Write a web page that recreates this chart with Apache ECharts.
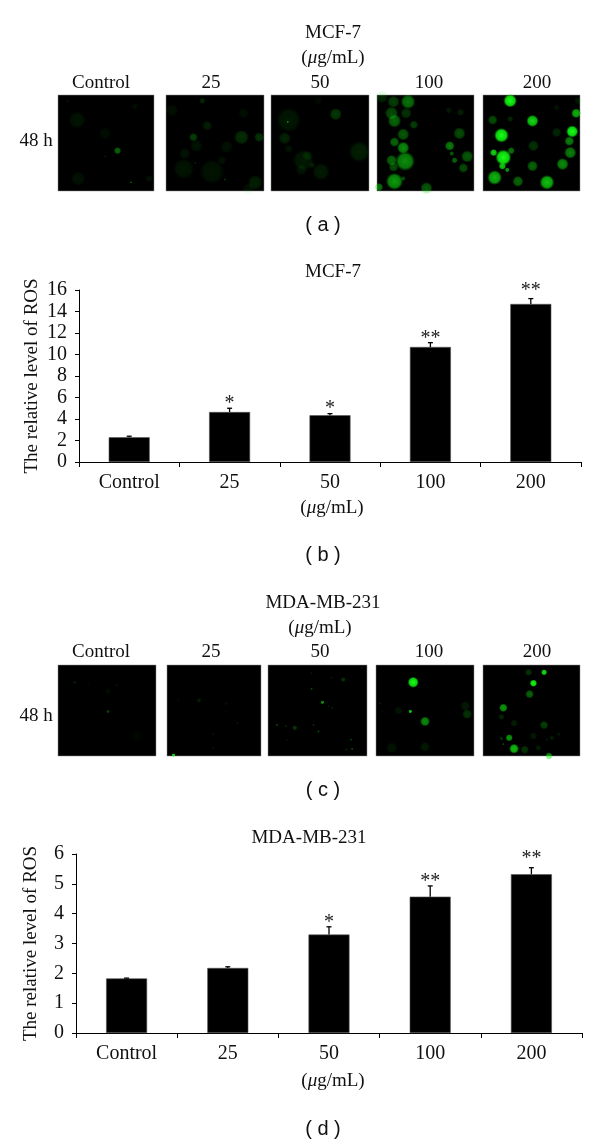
<!DOCTYPE html>
<html>
<head>
<meta charset="utf-8">
<script src="https://cdn.jsdelivr.net/npm/echarts@6/dist/echarts.min.js"></script>
<style>html,body{margin:0;padding:0;background:#fff}#c{width:600px;height:1144px}</style>
</head>
<body>
<div id="c"></div>
<script>
const doses = ['Control', '25', '50', '100', '200'];

// Bar values, top of the error bar, significance marks and the level the marks sit at
const mcfValues = [2.3, 4.65, 4.35, 10.7, 14.7];
const mcfErrorTops = [2.4, 5.0, 4.5, 11.1, 15.2];
const mcfStars = ['', '*', '*', '**', '**'];
const mcfStarLevels = [0, 5.67, 5.24, 11.7, 16.2];
const mdaValues = [1.83, 2.18, 3.3, 4.57, 5.32];
const mdaErrorTops = [1.84, 2.22, 3.56, 4.93, 5.54];
const mdaStars = ['', '', '*', '**', '**'];
const mdaStarLevels = [0, 0, 3.79, 5.16, 5.93];

// Fluorescent cells: [x %, y %, diameter %, brightness]
const mcfControl = [[20,26,14,.08],[62,58,6,.4],[76,91,2,.35],[21,87,12,.07],[49,64,2,.12],[80,12,5,.05],[49,40,10,.05],[95,87,6,.07],[10,6,3,.06]];
const mcf25 = [[37,6,5,.15],[6,16,10,.06],[42,32,8,.12],[28,44,7,.25],[79,19,8,.06],[77,44,12,.18],[95,44,8,.2],[31,53,10,.08],[19,61,9,.08],[62,54,10,.07],[18,77,17,.08],[47,80,20,.08],[60,88,2,.25],[91,91,12,.12],[57,68,7,.07],[30,71,2,.15],[84,98,10,.06]];
const mcf50 = [[18,26,20,.09],[17,28,2,.5],[66,20,10,.22],[14,45,10,.14],[18,56,7,.07],[90,59,17,.12],[33,68,17,.1],[37,63,8,.1],[31,78,9,.08],[51,80,14,.1],[42,73,5,.1],[48,6,7,.04]];
const mcf100 = [[32,7,12,.45],[17,7,10,.25],[5,2,10,.15],[15,19,11,.3],[18,27,11,.4],[30,19,9,.2],[38,31,7,.25],[27,41,10,.35],[18,49,8,.4],[27,55,10,.55],[15,68,9,.4],[29,69,16,.55],[17,75,8,.3],[18,90,14,.6],[27,87,4,.3],[2,96,7,.45],[51,97,10,.35],[75,53,8,.5],[85,40,10,.3],[80,68,5,.4],[93,64,10,.35],[89,76,8,.3],[77,61,4,.35],[86,18,6,.12],[74,16,5,.1]];
const mcf200 = [[28,6,11,1],[10,26,8,.3],[28,25,5,.15],[51,27,10,.85],[96,19,8,.7],[92,38,10,1],[19,42,12,1],[76,39,8,.15],[89,48,8,.5],[90,60,10,.5],[52,53,9,.2],[11,60,6,.85],[29,58,6,.45],[21,65,13,1],[20,74,6,.8],[25,78,4,.6],[51,74,9,.4],[82,72,10,.55],[12,86,12,.7],[36,90,9,.4],[66,91,12,.75],[98,6,6,.1],[76,13,5,.08]];
const mdaControl = [[17,19,3,.1],[31,22,2,.06],[51,29,5,.05],[51,51,3,.25],[60,22,3,.05],[80,78,8,.03]];
const mda25 = [[7,99,3,.9],[34,39,4,.12],[12,38,2,.08],[75,64,2,.12],[49,76,2,.1],[49,91,2,.07],[44,53,1.5,.06],[62,51,1.5,.1],[94,64,1.5,.05],[30,5,1.5,.05],[63,42,3,.07],[23,56,1.5,.05]];
const mda50 = [[55,41,3,.6],[44,26,2,.3],[44,9,2,.12],[76,16,4,.2],[64,14,1.5,.2],[61,45,1.5,.15],[65,47,2,.15],[9,66,2,.25],[18,67,2,.15],[27,69,4,.22],[46,66,2,.2],[51,73,2,.3],[84,82,2,.25],[79,93,1.5,.3],[85,92,2,.3],[19,82,2,.08],[95,3,2,.08],[75,41,1,.1]];
const mda100 = [[38,19,9,1],[35,51,3,.8],[50,62,8,.55],[93,54,8,.2],[91,45,8,.1],[23,50,7,.08],[4,42,2,.1],[50,90,8,.1],[16,91,9,.08],[6,51,1.5,.08]];
const mda200 = [[63,8,5,.9],[47,8,6,.2],[52,20,6,1],[48,32,7,.4],[21,47,7,.6],[19,57,5,.15],[32,64,6,.12],[63,66,7,.25],[27,80,6,.6],[19,81,3,.2],[32,92,8,.75],[43,93,7,.2],[68,100,6,.55],[52,78,6,.1],[71,80,4,.12],[78,76,3,.1],[66,82,3,.08],[21,87,2,.3],[57,91,5,.1],[30,16,2,.05]];

const SERIF = '"Liberation Serif", serif';
const SANS = '"Liberation Sans", Arial, sans-serif';
const grid = [], xAxis = [], yAxis = [], series = [], graphic = [];

function text(str, x, y, size, family, extra) {
  graphic.push({
    type: 'text', x: x, y: y, silent: true,
    style: Object.assign({text: str, fontFamily: family || SERIF, fontSize: size || 19, fill: '#111', align: 'center', verticalAlign: 'middle'}, extra || {})
  });
}
const unitRich = {
  u: {fontFamily: SERIF, fontSize: 19, fontStyle: 'italic', fill: '#111', color: '#111'},
  n: {fontFamily: SERIF, fontSize: 19, fill: '#111', color: '#111'}
};
const unitText = '{n|(}{u|μ}{n|g/mL)}';
function unit(x, y) { text(unitText, x, y, 19, SERIF, {rich: unitRich}); }

function cellPanel(cells, left, top, width, height) {
  const idx = grid.length;
  grid.push({left: left, top: top, width: width, height: height, show: true, backgroundColor: '#000', borderColor: '#8a8a8a', borderWidth: 0.5});
  xAxis.push({gridIndex: idx, type: 'value', min: 0, max: 100, show: false});
  yAxis.push({gridIndex: idx, type: 'value', min: 0, max: 100, inverse: true, show: false});
  series.push({
    type: 'scatter', xAxisIndex: idx, yAxisIndex: idx, silent: true, clip: true,
    symbol: 'circle',
    symbolSize: v => v[2] * 1.28 * width / 100,
    data: cells.map(c => {
      const b = c[3];
      return {
        value: c,
        itemStyle: {
          opacity: 1,
          color: {type: 'radial', x: .5, y: .5, r: .5, colorStops: [
            {offset: 0, color: `rgba(25,255,25,${b})`},
            {offset: .68, color: `rgba(15,245,15,${b * .85})`},
            {offset: 1, color: 'rgba(0,200,0,0)'}
          ]}
        }
      };
    })
  });
}

function barChart(values, errTops, stars, starLevels, left, top, width, height, maxV, step, nameGap) {
  const idx = grid.length;
  grid.push({left: left, top: top, width: width, height: height});
  xAxis.push({
    gridIndex: idx, type: 'category', data: doses,
    axisLine: {lineStyle: {color: '#000', width: 1}},
    axisTick: {show: true, alignWithLabel: false, length: 5, lineStyle: {color: '#000'}},
    axisLabel: {color: '#111', fontFamily: SERIF, fontSize: 20, margin: 11, interval: 0},
    splitLine: {show: false}
  });
  yAxis.push({
    gridIndex: idx, type: 'value', min: 0, max: maxV, interval: step,
    axisLine: {show: true, lineStyle: {color: '#000', width: 1}},
    axisTick: {show: true, length: 4, lineStyle: {color: '#000'}},
    axisLabel: {color: '#111', fontFamily: SERIF, fontSize: 20, margin: 12},
    splitLine: {show: false},
    name: 'The relative level of ROS', nameLocation: 'middle', nameRotate: 90, nameGap: nameGap,
    nameMoveOverlap: false,
    nameTextStyle: {color: '#111', fontFamily: SERIF, fontSize: 19}
  });
  series.push({
    type: 'bar', xAxisIndex: idx, yAxisIndex: idx, silent: true,
    barWidth: 41, data: values,
    itemStyle: {color: '#000', borderColor: '#555', borderWidth: 0.6}
  });
  series.push({
    type: 'custom', xAxisIndex: idx, yAxisIndex: idx, silent: true, z: 3,
    data: values.map((v, i) => [i, v, errTops[i], starLevels[i]]),
    encode: {x: 0, y: [1, 2]},
    renderItem: function (params, api) {
      const base = api.coord([api.value(0), api.value(1)]);
      const tip = api.coord([api.value(0), api.value(2)]);
      const line = {stroke: '#000', lineWidth: 1.3};
      const star = stars[params.dataIndex];
      const kids = [
        {type: 'line', shape: {x1: base[0], y1: base[1], x2: base[0], y2: tip[1]}, style: line},
        {type: 'line', shape: {x1: base[0] - 2.5, y1: tip[1], x2: base[0] + 2.5, y2: tip[1]}, style: line}
      ];
      if (star) {
        const mark = api.coord([api.value(0), api.value(3)]);
        kids.push({type: 'text', x: base[0], y: mark[1] + 3, style: {
          text: star, fontFamily: SERIF, fontSize: 20, fill: '#222', align: 'center', verticalAlign: 'middle'
        }});
      }
      return {type: 'group', children: kids};
    }
  });
}

// Panel (a)
text('MCF-7', 333, 33);
unit(333, 58);
const topLabelX = [101, 211, 320, 429, 537];
doses.forEach((d, i) => text(d, topLabelX[i], 83));
text('48 h', 36, 141);
[[mcfControl,58,96],[mcf25,166,98],[mcf50,271,98],[mcf100,377,97],[mcf200,483,97]]
  .forEach(p => cellPanel(p[0], p[1], 95, p[2], 96));
text('( a )', 323, 225, 20, SANS);

// Panel (b)
text('MCF-7', 333, 272);
barChart(mcfValues, mcfErrorTops, mcfStars, mcfStarLevels, 79, 290, 502, 172, 16, 2, 37);
unit(332, 508);
text('( b )', 323, 555, 20, SANS);

// Panel (c)
text('MDA-MB-231', 323, 603);
unit(320, 628);
const lowerLabelX = [101, 211, 320, 429, 537];
doses.forEach((d, i) => text(d, lowerLabelX[i], 652));
text('48 h', 36, 716);
[[mdaControl,58,98],[mda25,167,94],[mda50,268,99],[mda100,376,98],[mda200,483,97]]
  .forEach(p => cellPanel(p[0], p[1], 665, p[2], 91));
text('( c )', 323, 790, 20, SANS);

// Panel (d)
text('MDA-MB-231', 309, 838);
barChart(mdaValues, mdaErrorTops, mdaStars, mdaStarLevels, 76, 854, 506, 179, 6, 1, 35);
unit(333, 1081);
text('( d )', 323, 1129, 20, SANS);

const chart = echarts.init(document.getElementById('c'), null, {renderer: 'canvas', width: 600, height: 1144});
chart.setOption({
  backgroundColor: '#fff', animation: false,
  grid, xAxis, yAxis, series, graphic
});
</script>
</body>
</html>
